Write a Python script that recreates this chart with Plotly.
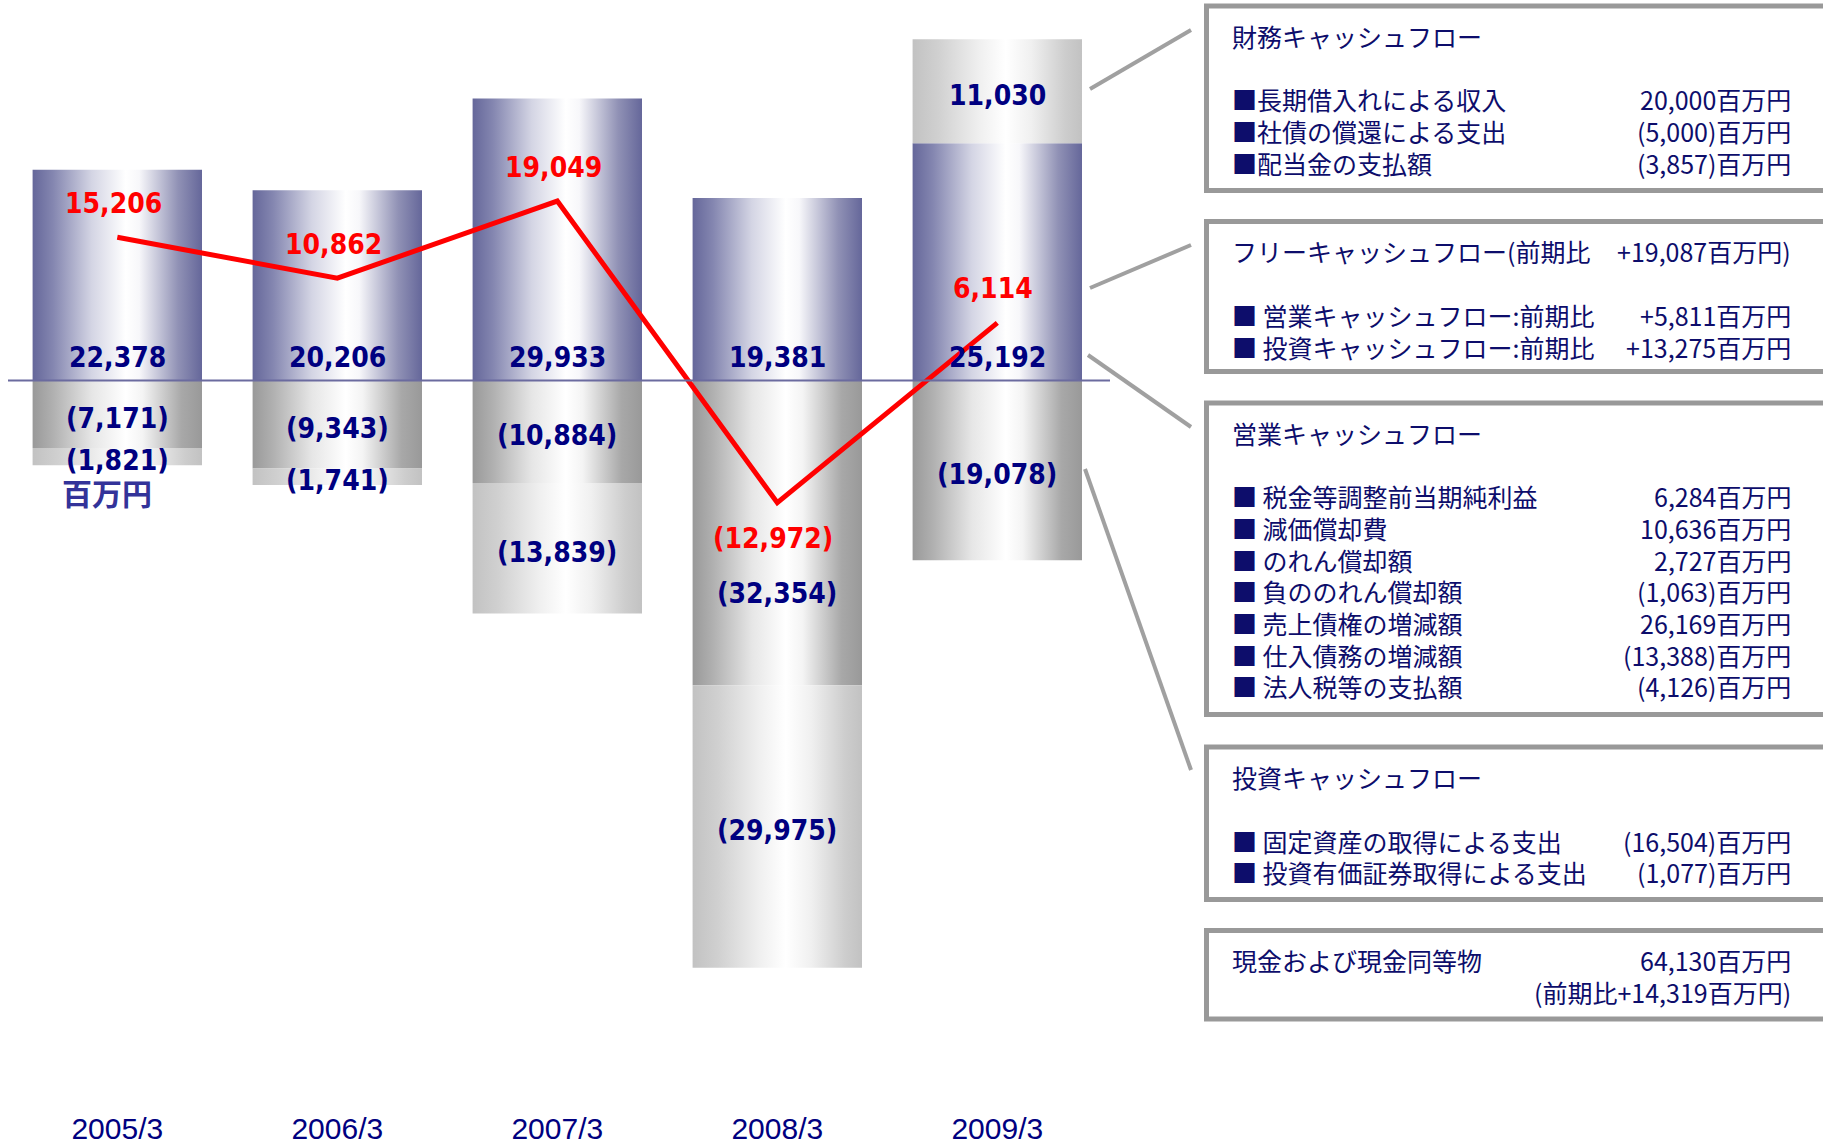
import plotly.graph_objects as go

# ---------------- data ----------------
years = ["2005/3", "2006/3", "2007/3", "2008/3", "2009/3"]
operating_cf = [22378, 20206, 29933, 19381, 25192]
investing_cf = [-7171, -9343, -10884, -32354, -19078]
financing_cf = [-1821, -1741, -13839, -29975, 11030]
free_cf = [15206, 10862, 19049, -12972, 6114]
unit_label = "百万円"

fin_title = "財務キャッシュフロー"
fin_items = ["■長期借入れによる収入", "■社債の償還による支出", "■配当金の支払額"]
fin_values = ["20,000百万円", "(5,000)百万円", "(3,857)百万円"]

fcf_title = "フリーキャッシュフロー(前期比"
fcf_title_value = "+19,087百万円)"
fcf_items = ["■ 営業キャッシュフロー:前期比", "■ 投資キャッシュフロー:前期比"]
fcf_values = ["+5,811百万円", "+13,275百万円"]

op_title = "営業キャッシュフロー"
op_items = ["■ 税金等調整前当期純利益", "■ 減価償却費", "■ のれん償却額", "■ 負ののれん償却額",
            "■ 売上債権の増減額", "■ 仕入債務の増減額", "■ 法人税等の支払額"]
op_values = ["6,284百万円", "10,636百万円", "2,727百万円", "(1,063)百万円",
             "26,169百万円", "(13,388)百万円", "(4,126)百万円"]

inv_title = "投資キャッシュフロー"
inv_items = ["■ 固定資産の取得による支出", "■ 投資有価証券取得による支出"]
inv_values = ["(16,504)百万円", "(1,077)百万円"]

cash_title = "現金および現金同等物"
cash_value = "64,130百万円"
cash_change = "(前期比+14,319百万円)"

# ---------------- geometry ----------------
W, H = 1823, 1148
B = 40
PH = H - B
ZERO_PX = 380.5
K = 0.00942          # pixels per million yen
X0_PX, XSTEP = 117.3, 220.0
BAR_W = 0.77

y_top = ZERO_PX / K
y_bot = -(PH - ZERO_PX) / K
x_lo = -X0_PX / XSTEP
x_hi = (W - X0_PX) / XSTEP


def px2p(px):
    return px / W


def py2p(py):
    return 1 - py / PH


def fmt(v):
    return f"{v:,}" if v >= 0 else f"({-v:,})"


NAVY = "#000080"
BOXTXT = "#0d0d6b"
LBL_FONT = dict(family="DejaVu Sans Condensed, Liberation Sans Narrow, sans-serif", size=28, weight="bold")

BLUE = [[0, "#65679a"], [0.12, "#8486b0"], [0.35, "#d4d5e4"], [0.55, "#ffffff"],
        [0.63, "#f7f7fa"], [0.86, "#9091b5"], [1, "#65679a"]]
GRAY = [[0, "#999999"], [0.12, "#b0b0b0"], [0.35, "#e6e6e6"], [0.55, "#ffffff"],
        [0.65, "#f4f4f4"], [0.88, "#a8a8a8"], [1, "#999999"]]
LIGHT = [[0, "#c2c2c2"], [0.15, "#d0d0d0"], [0.4, "#f0f0f0"], [0.55, "#ffffff"],
         [0.7, "#f0f0f0"], [0.9, "#cdcdcd"], [1, "#c2c2c2"]]

fig = go.Figure()


def seg(i, y0, y1, scale):
    xl, xr = i - BAR_W / 2, i + BAR_W / 2
    fig.add_trace(go.Scatter(
        x=[xl, xr, xr, xl, xl], y=[y0, y0, y1, y1, y0],
        fill="toself", mode="lines", line=dict(width=0),
        fillgradient=dict(type="horizontal", colorscale=scale),
        hoverinfo="skip", showlegend=False))


annotations = []


def lab(x, y, text, color=NAVY, yshift=0, xshift=0):
    annotations.append(dict(x=x, y=y, xref="x", yref="y", text=text, showarrow=False,
                            font=dict(color=color, **LBL_FONT), xanchor="center",
                            yanchor="middle", yshift=yshift, xshift=xshift))


label_extra_shift = {3: -57}

for i in range(len(years)):
    op, inv, fin = operating_cf[i], investing_cf[i], financing_cf[i]
    seg(i, 0, op, BLUE)
    seg(i, 0, inv, GRAY)
    if fin >= 0:
        f0, f1 = op, op + fin
    else:
        f0, f1 = inv, inv + fin
    seg(i, f0, f1, LIGHT)
    lab(i, 0, fmt(op), yshift=23)
    lab(i, inv / 2, fmt(inv), yshift=-4 + label_extra_shift.get(i, 0))
    lab(i, (f0 + f1) / 2, fmt(fin), yshift=-4)

fig.add_trace(go.Scatter(x=list(range(len(years))), y=free_cf, mode="lines",
                         line=dict(color="#ff0000", width=5), hoverinfo="skip", showlegend=False))
for i, v in enumerate(free_cf):
    lab(i, v, fmt(v), color="#ff0000", yshift=34 if v >= 0 else -36, xshift=-4)

# unit label
annotations.append(dict(x=px2p(107), y=py2p(493.5), xref="paper", yref="paper", text=unit_label,
                        showarrow=False, xanchor="center", yanchor="middle", yshift=2,
                        font=dict(family="Noto Sans CJK JP", size=30, weight="bold", color="#333399")))

shapes = []
# zero line
shapes.append(dict(type="line", xref="paper", yref="y", x0=px2p(8), x1=px2p(1110), y0=0, y1=0,
                   line=dict(color="#6b6b9f", width=2), layer="above"))

# boxes
boxes = [(6, 190.5), (221.5, 371.5), (403, 714.5), (747, 899.5), (930.5, 1019)]
for t, b in boxes:
    shapes.append(dict(type="rect", xref="paper", yref="paper", x0=px2p(1206.5), x1=px2p(1840),
                       y0=py2p(b), y1=py2p(t), line=dict(color="#999999", width=5),
                       fillcolor="white", layer="above"))

connectors = [((1090, 89), (1191, 30)), ((1090, 288), (1191, 245)),
              ((1088, 355), (1191, 427)), ((1085, 469), (1191, 770))]
for (xa, ya), (xb, yb) in connectors:
    shapes.append(dict(type="line", xref="paper", yref="paper", x0=px2p(xa), y0=py2p(ya),
                       x1=px2p(xb), y1=py2p(yb), line=dict(color="#a0a0a0", width=4), layer="above"))

TX_L, TX_R = 1230, 1793
LINE = 31.6
BOXFONT = dict(family="Noto Sans CJK JP", size=25, color=BOXTXT)


def btxt(text, px, py, anchor):
    annotations.append(dict(x=px2p(px), y=py2p(py), xref="paper", yref="paper", text=text,
                            showarrow=False, xanchor=anchor, yanchor="middle", yshift=2.5,
                            font=BOXFONT))


def box_block(top, title, title_val, items, values):
    ty = top + 32
    btxt(title, TX_L, ty, "left")
    if title_val:
        btxt(title_val, TX_R, ty, "right")
    for j, (it, va) in enumerate(zip(items, values)):
        yy = ty + 64 + j * LINE
        btxt(it, TX_L, yy, "left")
        btxt(va, TX_R, yy, "right")


box_block(boxes[0][0], fin_title, None, fin_items, fin_values)
box_block(boxes[1][0], fcf_title, fcf_title_value, fcf_items, fcf_values)
box_block(boxes[2][0], op_title, None, op_items, op_values)
box_block(boxes[3][0], inv_title, None, inv_items, inv_values)
cy = boxes[4][0] + 32
btxt(cash_title, TX_L, cy, "left")
btxt(cash_value, TX_R, cy, "right")
btxt(cash_change, TX_R, cy + LINE, "right")

fig.update_layout(
    width=W, height=H, margin=dict(l=0, r=0, t=0, b=B, autoexpand=False),
    paper_bgcolor="white", plot_bgcolor="white", showlegend=False, hovermode=False,
    xaxis=dict(range=[x_lo, x_hi], tickvals=list(range(len(years))), ticktext=years,
               showgrid=False, zeroline=False, showline=False, ticks="", automargin=False,
               tickfont=dict(family="Liberation Sans, Arial, sans-serif", size=30, color=NAVY)),
    yaxis=dict(range=[y_bot, y_top], showgrid=False, zeroline=False, showline=False,
               showticklabels=False, ticks="", automargin=False),
    annotations=annotations, shapes=shapes,
)

fig.write_html("out.html", config={"displayModeBar": False},
               post_script="document.body.style.margin='0px';document.body.style.overflow='hidden';")
